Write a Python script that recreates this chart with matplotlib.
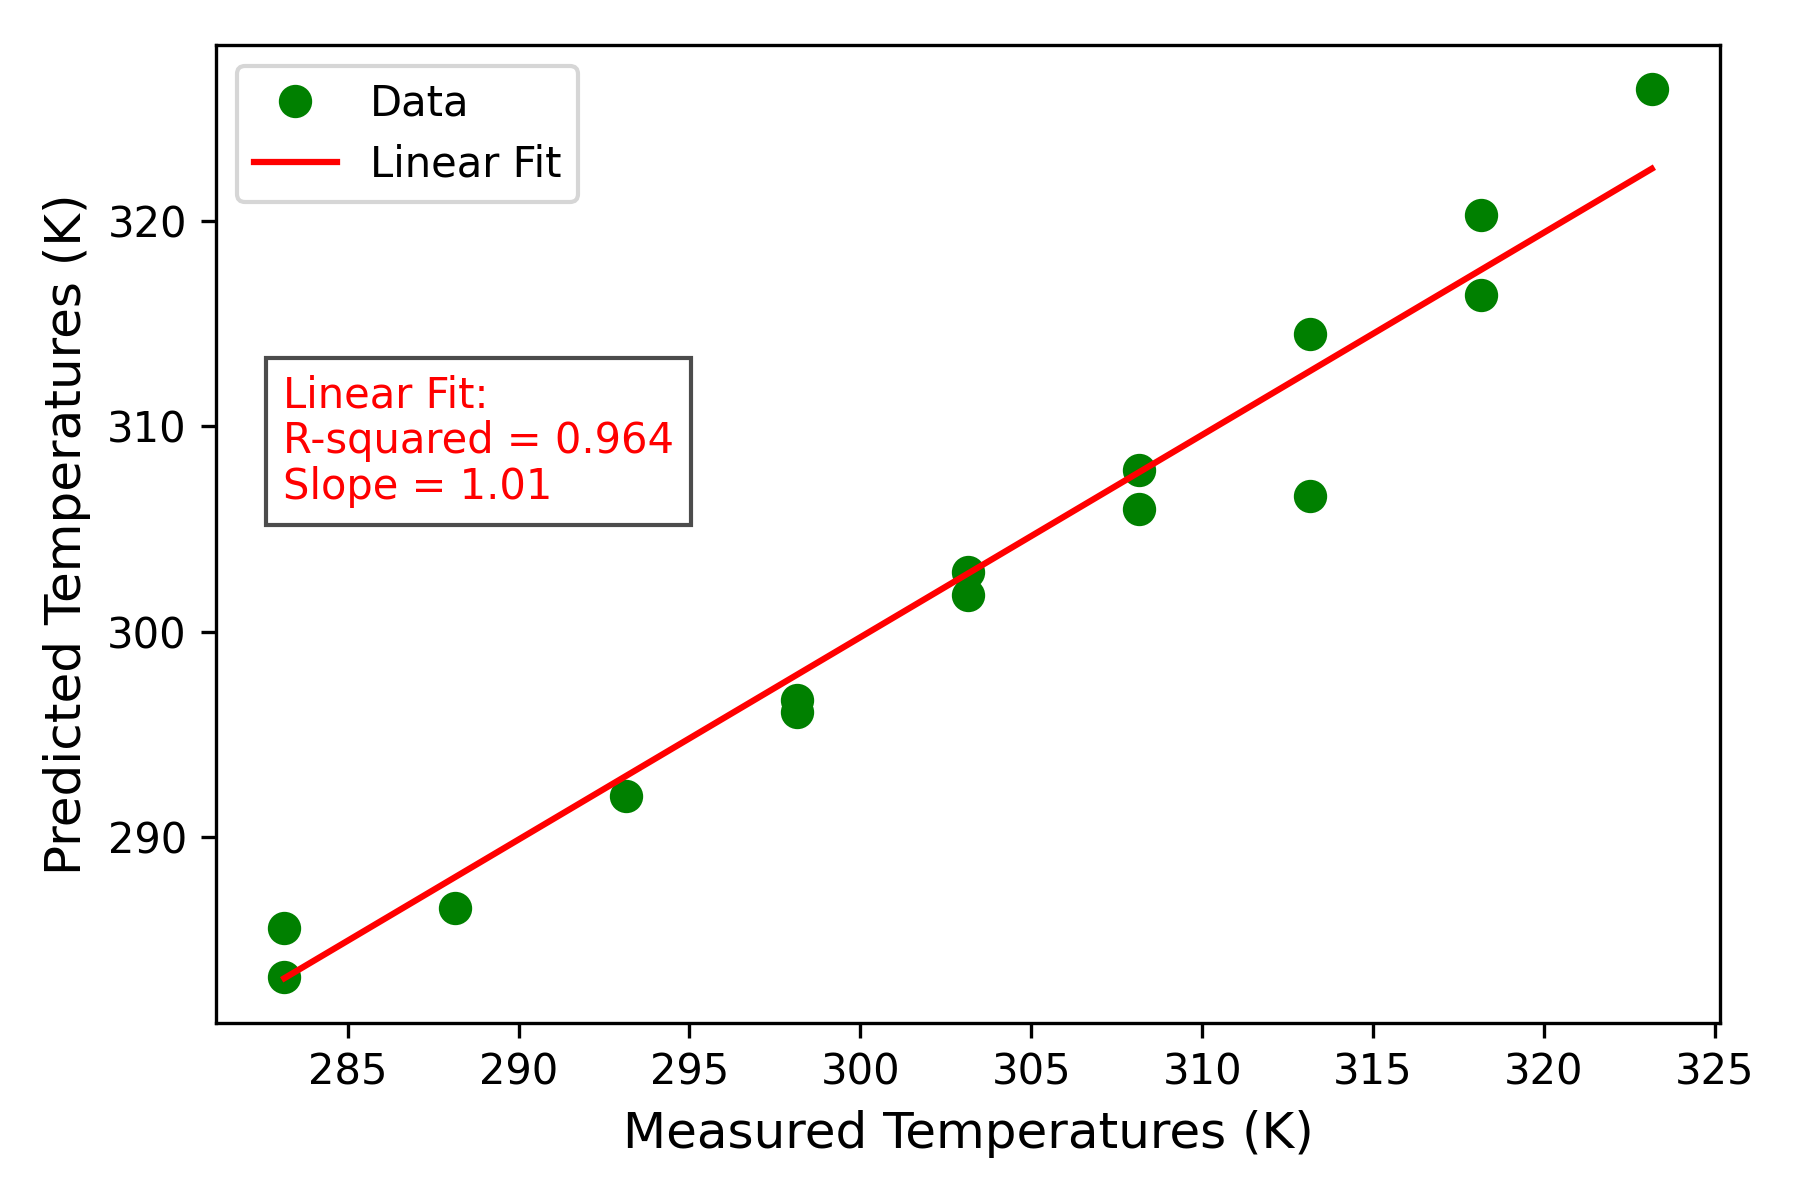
import numpy as np
import matplotlib
matplotlib.use("Agg")
import matplotlib.pyplot as plt

# measured temperatures (K) and model predictions (K)
measured = [283.15, 283.15, 288.15, 293.15, 298.15, 298.15, 303.15, 303.15,
            308.15, 308.15, 313.15, 313.15, 318.15, 318.15, 323.15]
predicted = [285.6, 283.2, 286.55, 292.0, 296.7, 296.1, 302.9, 301.8,
             307.9, 306.0, 314.5, 306.6, 320.3, 316.4, 326.4]

# fitted line end points
fit_x = [283.15, 323.15]
fit_y = [283.15, 322.54]

r_squared = 0.964
slope = 1.01

fig, ax = plt.subplots(figsize=(6, 4), dpi=300)
fig.subplots_adjust(left=0.12, right=0.9556, bottom=0.1478, top=0.9625)

ax.plot(measured, predicted, 'o', ms=7, color='green', label='Data', zorder=2)
ax.plot(fit_x, fit_y, color='red', lw=1.5, label='Linear Fit', zorder=3)

ax.set_xlabel('Measured Temperatures (K)', fontsize=12)
ax.set_ylabel('Predicted Temperatures (K)', fontsize=12)
ax.legend(loc='upper left', labelspacing=0.45)

ax.text(0.0445, 0.663,
        f"Linear Fit:\nR-squared = {r_squared:.3f}\nSlope = {slope:.2f}",
        transform=ax.transAxes, color='red', fontsize=10, va='top',
        linespacing=1.12,
        bbox=dict(facecolor='white', edgecolor='black', alpha=0.7))

fig.savefig('out.png', dpi=300)
